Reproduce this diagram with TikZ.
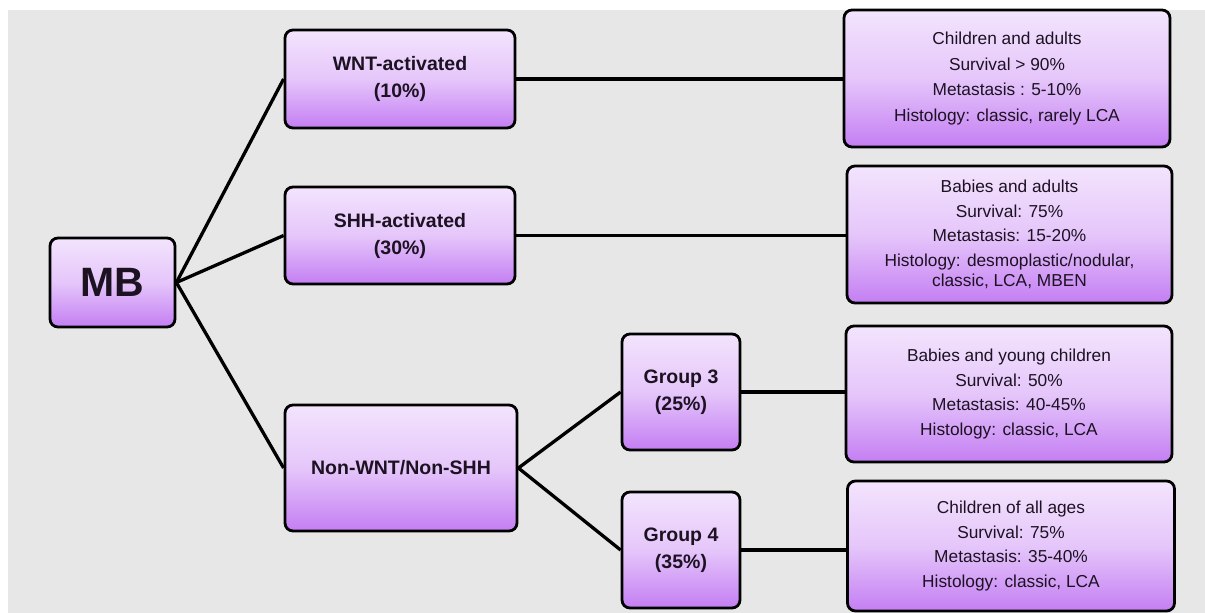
\documentclass[tikz,border=0pt]{standalone}
\usepackage{fontspec}
\setmainfont{Liberation Sans}
\definecolor{bg}{RGB}{231,231,231}
\definecolor{ptop}{RGB}{243,228,253}
\definecolor{pmid}{RGB}{229,198,250}
\definecolor{pbot}{RGB}{196,126,243}
\definecolor{txt}{RGB}{28,18,34}
\tikzset{
  box/.style={draw=black, line width=2.8pt, rounded corners=8pt,
    top color=ptop, bottom color=pbot, middle color=pmid,
    align=center, text=txt, inner sep=0pt},
  bigbox/.style={box, font=\bfseries\fontsize{41}{45}\selectfont},
  catbox/.style={box, font=\bfseries\fontsize{19.5}{27}\selectfont},
  infobox/.style={box, font=\fontsize{17.3}{20}\selectfont},
  conn/.style={draw=black, line width=3.3pt}
}
\begin{document}
\begin{tikzpicture}[x=1pt, y=-1pt]
\useasboundingbox (0,0) rectangle (1205,613);
\fill[white] (0,0) rectangle (1205,613);
\fill[bg] (8,10) rectangle (1205,613);

\node[bigbox, minimum width=125pt, minimum height=89pt] (MB) at (112.5,282.5) {MB};

\node[catbox, minimum width=230pt, minimum height=98pt] (WNT) at (400,79) {WNT-activated\\(10\%)};
\node[catbox, minimum width=230pt, minimum height=97pt] (SHH) at (400,235.5) {SHH-activated\\(30\%)};
\node[catbox, minimum width=232pt, minimum height=126pt] (NON) at (401,468) {Non-WNT/Non-SHH};

\node[catbox, minimum width=118pt, minimum height=116pt] (G3) at (681,392) {Group 3\\(25\%)};
\node[catbox, minimum width=118pt, minimum height=116pt] (G4) at (681,550) {Group 4\\(35\%)};

\node[infobox, minimum width=326pt, minimum height=137pt] (R1) at (1007,78.5)
  {Children and adults\\[5.5pt]Survival > 90\%\\[5.5pt]Metastasis : 5-10\%\\[5.5pt]Histology: classic, rarely LCA};
\node[infobox, minimum width=325pt, minimum height=137pt] (R2) at (1009.5,234.5)
  {Babies and adults\\[4.5pt]Survival: 75\%\\[4.5pt]Metastasis: 15-20\%\\[4.5pt]Histology: desmoplastic/nodular,\\classic, LCA, MBEN};
\node[infobox, minimum width=326pt, minimum height=136pt] (R3) at (1009,394)
  {Babies and young children\\[4.7pt]Survival: 50\%\\[4.7pt]Metastasis: 40-45\%\\[4.7pt]Histology: classic, LCA};
\node[infobox, minimum width=327pt, minimum height=130pt] (R4) at (1011,546)
  {Children of all ages\\[4.7pt]Survival: 75\%\\[4.7pt]Metastasis: 35-40\%\\[4.7pt]Histology: classic, LCA};

\draw[conn] (MB.east) -- (WNT.west);
\draw[conn] (MB.east) -- (SHH.west);
\draw[conn] (MB.east) -- (NON.west);
\draw[conn] (WNT.east) -- (R1.west |- WNT.east);
\draw[conn] (SHH.east) -- (R2.west |- SHH.east);
\draw[conn] (NON.east) -- (G3.west);
\draw[conn] (NON.east) -- (G4.west);
\draw[conn] (G3.east) -- (R3.west |- G3.east);
\draw[conn] (G4.east) -- (R4.west |- G4.east);
\end{tikzpicture}
\end{document}
